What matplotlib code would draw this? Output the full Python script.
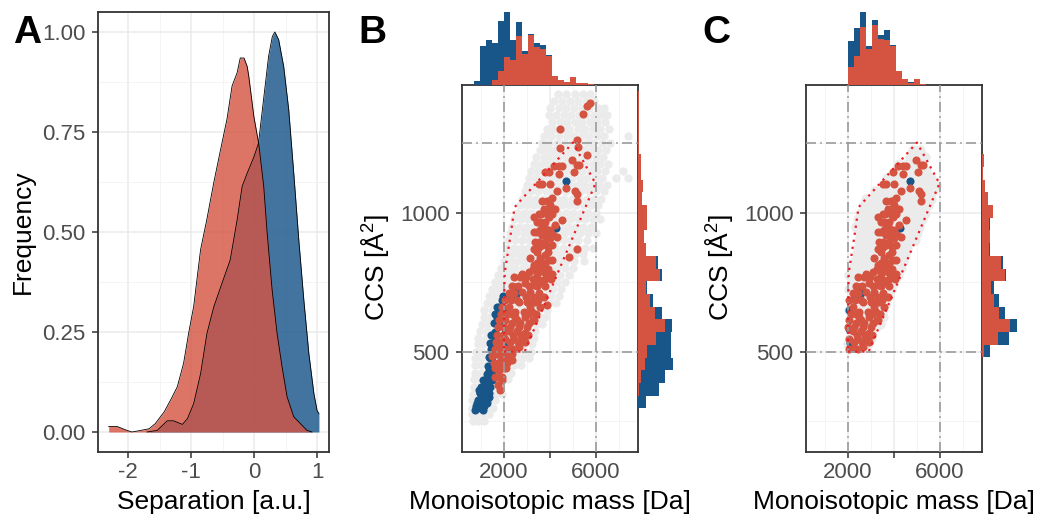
import numpy as np
import matplotlib.pyplot as plt
from matplotlib.path import Path

plt.rcParams['font.family'] = ['Liberation Sans', 'DejaVu Sans']
plt.rcParams['mathtext.fontset'] = 'custom'
plt.rcParams['mathtext.rm'] = 'Liberation Sans'
plt.rcParams['axes.unicode_minus'] = False

BLUE = '#18568A'
RED = '#D55341'
GREY_PT = '#EBEBEB'

# ---- panel A: separation densities ----
blue_x = [-1.70, -1.54, -1.38, -1.28, -1.14, -1.06, -0.96, -0.85, -0.75, -0.64, -0.53,
          -0.38, -0.27, -0.19, -0.11, 0.00, 0.07, 0.15, 0.23, 0.29, 0.33, 0.39, 0.47,
          0.55, 0.63, 0.71, 0.79, 0.87, 0.95, 1.00, 1.03]
blue_y = [0.0, 0.004, 0.028, 0.028, 0.019, 0.033, 0.071, 0.146, 0.246, 0.313, 0.363,
          0.43, 0.53, 0.614, 0.647, 0.689, 0.722, 0.831, 0.939, 0.989, 1.0, 0.981, 0.914,
          0.806, 0.647, 0.48, 0.33, 0.196, 0.096, 0.054, 0.046]
red_x = [-2.31, -2.18, -2.02, -1.94, -1.80, -1.67, -1.57, -1.43, -1.33, -1.22, -1.12,
         -1.04, -0.96, -0.85, -0.75, -0.64, -0.53, -0.43, -0.35, -0.27, -0.22, -0.16,
         -0.11, -0.085, -0.005, 0.074, 0.153, 0.206, 0.286, 0.365, 0.444, 0.524, 0.63,
         0.84, 0.92]
red_y = [0.014, 0.014, 0.004, 0.0, 0.004, 0.008, 0.021, 0.05, 0.079, 0.113, 0.172,
         0.247, 0.314, 0.456, 0.532, 0.624, 0.708, 0.783, 0.865, 0.898, 0.935, 0.935,
         0.914, 0.89, 0.79, 0.72, 0.614, 0.50, 0.356, 0.247, 0.163, 0.088, 0.038,
         0.004, 0.0]

# ---- panels B/C: CCS vs monoisotopic mass, rows of (CCS, [masses]) ----
gray_rows = [
    (1425, [4350, 4700, 5080, 5420, 5760]),
    (1402, [4180, 4530, 4870, 5230, 5580, 5930]),
    (1378, [4020, 4380, 4690, 5060, 5390, 5720, 6070, 6330]),
    (1352, [3940, 4260, 4610, 4920, 5260, 5570, 5910, 6220, 6480]),
    (1327, [4080, 4420, 4760, 5110, 5390, 5760, 6060, 6390]),
    (1301, [3860, 4190, 4560, 4840, 5210, 5540, 5860, 6190, 6560]),
    (1276, [3730, 4060, 4390, 4720, 5040, 5410, 5690, 6040, 6360, 7380]),
    (1249, [3640, 3960, 4290, 4610, 4950, 5260, 5610, 5890, 6260, 6610]),
    (1226, [3560, 3840, 4170, 4490, 4810, 5140, 5460, 5790, 6110, 6440]),
    (1201, [3410, 3720, 4040, 4360, 4690, 5010, 5340, 5660, 5990, 6310]),
    (1174, [3300, 3610, 3910, 4240, 4560, 4890, 5210, 5540, 5860, 6190, 6510]),
    (1151, [3190, 3490, 3810, 4120, 4440, 4760, 5090, 5410, 5740, 6060, 6390, 7190]),
    (1124, [3090, 3400, 3690, 4010, 4320, 4640, 4960, 5290, 5610, 5940, 6260, 6880, 7400]),
    (1099, [2990, 3290, 3600, 3910, 4210, 4520, 4840, 5160, 5490, 5810, 6140, 6490]),
    (1076, [2900, 3190, 3490, 3810, 4110, 4410, 4710, 5040, 5360, 5690, 6010, 6340]),
    (1050, [2790, 3090, 3410, 3700, 4010, 4310, 4610, 4940, 5260, 5590, 5910, 6240]),
    (1026, [2690, 2990, 3300, 3610, 3910, 4210, 4510, 4810, 5140, 5460, 5790, 6110]),
    (999, [2560, 2860, 3160, 3460, 3760, 4060, 4360, 4690, 5010, 5340, 5660, 5990]),
    (976, [2440, 2740, 3040, 3350, 3640, 3960, 4240, 4560, 4890, 5210, 5540, 5880, 6190]),
    (950, [2350, 2660, 2940, 3260, 3540, 3860, 4140, 4460, 4790, 5110, 5440, 5790]),
    (925, [2260, 2540, 2860, 3140, 3460, 3740, 4060, 4340, 4660, 4990, 5310, 5640, 5990]),
    (901, [2190, 2500, 2790, 3110, 3390, 3710, 3990, 4310, 4610, 4910, 5240, 5590]),
    (874, [2140, 2440, 2760, 3040, 3360, 3640, 3960, 4240, 4560, 4860, 5160, 5510, 5890]),
    (851, [2090, 2410, 2690, 3010, 3290, 3610, 3890, 4210, 4490, 4810, 5110, 5440]),
    (826, [2010, 2290, 2610, 2890, 3210, 3490, 3810, 4090, 4410, 4710, 5040, 5490]),
    (799, [1890, 2210, 2490, 2810, 3090, 3410, 3690, 4010, 4290, 4640, 5010]),
    (776, [1760, 2040, 2360, 2640, 2960, 3240, 3560, 3840, 4160, 4440, 4810]),
    (750, [1590, 1910, 2190, 2510, 2790, 3110, 3390, 3710, 3990, 4310, 4640]),
    (724, [1460, 1740, 2060, 2340, 2660, 2940, 3260, 3540, 3860, 4140, 4460]),
    (701, [1340, 1660, 1940, 2260, 2540, 2860, 3140, 3460, 3740, 4060, 4390]),
    (674, [1260, 1540, 1860, 2140, 2460, 2740, 3060, 3340, 3660, 3940, 4260]),
    (651, [1140, 1460, 1740, 2060, 2340, 2660, 2940, 3260, 3540, 3860]),
    (624, [1110, 1390, 1710, 1990, 2310, 2590, 2910, 3190, 3510, 3790]),
    (601, [1040, 1310, 1590, 1910, 2190, 2510, 2790, 3110, 3390, 3660]),
    (576, [960, 1240, 1560, 1840, 2160, 2440, 2760, 3040, 3360]),
    (549, [890, 1210, 1490, 1810, 2090, 2410, 2690, 3010, 3290]),
    (526, [860, 1090, 1410, 1690, 2010, 2290, 2610, 2890, 3210]),
    (499, [790, 1060, 1340, 1660, 1940, 2260, 2540, 2860, 3160]),
    (476, [760, 990, 1310, 1590, 1910, 2190, 2510, 2790, 3090]),
    (451, [740, 1010, 1240, 1560, 1840, 2160, 2440, 2760]),
    (424, [760, 990, 1260, 1490, 1810, 2040, 2310]),
    (401, [700, 960, 1190, 1460, 1690, 1960, 2190]),
    (374, [690, 890, 1160, 1390, 1660, 1890]),
    (349, [650, 910, 1140, 1410, 1640, 1910]),
    (326, [630, 840, 1110, 1340, 1610]),
    (299, [610, 860, 1090, 1360, 1540]),
    (276, [620, 840, 1110, 1340]),
    (251, [660, 890, 1140]),
]

red_rows = [
    (1393, [5752]), (1385, [5608]), (1354, [5434]), (1300, [4449]),
    (1261, [5173]), (1237, [5217]), (1231, [4449]), (1207, [5608]),
    (1189, [4956]), (1172, [5173, 5275]), (1167, [4159, 4376, 4521]),
    (1145, [3797, 3970, 5028]), (1138, [4405]), (1104, [3507, 3652, 4014]),
    (1090, [4695]), (1078, [4304, 5101]), (1066, [5173]), (1054, [4086]),
    (1040, [3650, 3869, 3950, 5173]), (1028, [4014]), (1014, [3724, 4231]),
    (1005, [3820, 3980]), (996, [3507, 3600, 3850, 4086]), (984, [3289, 3941]),
    (972, [4521]), (966, [3434, 3550, 3800]), (954, [3652, 4200]), (944, [3797]),
    (938, [3560, 4000]), (932, [3289, 3450, 3941]), (920, [3652, 3800, 4150]),
    (908, [4014]), (912, [4304]), (896, [3350, 3507, 3797]), (884, [3650, 4086]),
    (876, [3520, 3900]), (869, [3300, 5173]), (860, [3434, 3900]), (848, [3797]),
    (839, [4811]), (836, [3150, 3579]), (828, [3941, 4086]), (818, [3450, 3800]),
    (812, [3289, 3650]), (798, [3250, 3600, 3900]), (792, [3507, 3869]),
    (786, [3072, 3724]), (780, [2782, 3434, 4086]), (770, [2450, 2700, 2950, 3941]),
    (760, [3250, 3500, 3800, 4050]), (746, [2927, 3652]), (740, [3289]),
    (735, [2350, 2600, 3100, 3450, 3800]), (716, [2782, 3144]), (710, [2200, 2450, 3507]),
    (698, [2950, 3300, 3724]), (685, [2050, 2300, 2550, 3200, 3500]),
    (677, [2637, 2999, 3362]), (668, [3869]), (660, [1900, 2200, 3150, 3550]),
    (642, [2492, 2855, 3217]), (635, [1850, 2150, 2350, 3050, 3400]),
    (624, [2500, 2900]), (612, [1800, 2050, 2550, 3250, 3289]), (604, [2348, 2710, 3072]),
    (588, [1750, 2000, 2250, 2650, 3000]), (576, [2203, 2565]), (566, [2927]),
    (560, [1700, 1950, 2400, 2750, 3050]), (545, [2058, 2420, 2782]),
    (535, [1650, 1850, 2250, 2600, 2900]), (518, [1913, 2637]), (512, [2275]),
    (508, [1600, 1800, 2050, 2450]), (490, [1695, 2058, 2348]),
    (484, [1500, 1900, 2150]), (470, [1850, 2350]), (460, [1550, 1750, 1950, 2150]),
    (456, [1623, 1985]), (440, [1600, 1800, 2000, 2100]), (434, [1768]),
    (410, [1623, 1700, 1900]), (398, [1913]), (380, [1739]), (362, [1840]),
]

blue_rows = [
    (1114, [4695]), (944, [4260]), (734, [2492]), (710, [2565]),
    (700, [1950, 2300]), (686, [1913]), (662, [1695, 1800]), (650, [2030]),
    (635, [1623, 1768]), (620, [1700]), (602, [1550]), (596, [1840]),
    (580, [2060]), (572, [1623]), (560, [1450, 1550]), (542, [1623]),
    (530, [1406, 2100]), (510, [1450, 1550]), (506, [1478]), (480, [1350, 1500]),
    (476, [1406]), (450, [1300, 1450]), (446, [1550]), (434, [1333]),
    (420, [1250, 1450, 1500]), (398, [1100, 1188, 1300, 1500]),
    (374, [1000, 1043, 1200, 1400]), (362, [899, 1100]), (350, [950, 971, 1150, 1350]),
    (338, [1116, 1333]), (326, [850, 899, 1050, 1250]), (314, [826, 1261]),
    (306, [800, 1000, 1043, 1150]), (296, [783, 950]), (290, [750, 1072]),
]

# dotted hull used for the filtered set (panel C)
hull_mass = [2000, 2900, 5980, 5000, 2680, 2460, 2320, 2030, 2000, 2000]
hull_ccs = [500, 500, 1105, 1252, 1040, 1019, 938, 782, 600, 500]

# ---- marginal histograms (counts, red stacked under blue) ----
mass_bin_width = 260
massB_start = 700
massB_red = [0, 0, 0, 5, 14, 28, 25, 49, 31, 50, 38, 36, 29, 9, 5, 3, 8, 2, 2, 1]
massB_blue = [4, 39, 45, 37, 50, 45, 20, 14, 3, 1, 4, 4, 1, 0, 0, 0, 0, 0, 0, 0]
massC_start = 2000
massC_red = [18, 29, 58, 36, 60, 46, 45, 39, 14, 6, 2, 6, 1]
massC_blue = [26, 28, 15, 3, 5, 4, 10, 1, 0, 0, 1, 0, 0]

ccs_bin_width = 45.7
ccsB_start = 296
ccsB_red = [0, 1, 3, 7, 9, 18, 27, 17, 12, 8, 22, 18, 8, 6, 9, 9, 4, 5, 3, 3, 1, 1, 1, 1, 1]
ccsB_blue = [8, 20, 24, 28, 24, 15, 7, 7, 3, 1, 2, 2, 0, 0, 0, 0, 0, 0, 0, 0, 0, 0, 0, 0, 0]
ccsC_start = 479
ccsC_red = [2, 16, 28, 17, 12, 9, 23, 19, 7, 8, 7, 11, 6, 3, 1, 2]
ccsC_blue = [6, 11, 7, 6, 5, 3, 1, 2, 1, 0, 1, 0, 0, 0, 0, 0]

W, H = 1043, 522
fig = plt.figure(figsize=(W / 100, H / 100), dpi=100)


def box(l, t, r, b):
    return fig.add_axes([l / W, 1 - b / H, (r - l) / W, (b - t) / H])


def unrows(rows):
    m = np.concatenate([r[1] for r in rows]).astype(float)
    c = np.concatenate([[r[0]] * len(r[1]) for r in rows]).astype(float)
    return m, c


def frame(ax):
    for s in ax.spines.values():
        s.set_color('#333333')
        s.set_linewidth(1.3)
    ax.tick_params(which='major', length=4.5, width=1.1, color='#333333',
                   labelsize=16, labelcolor='#4D4D4D')
    ax.tick_params(axis='x', pad=3)
    ax.tick_params(axis='y', pad=4.5)
    ax.tick_params(which='minor', length=0)
    ax.grid(which='major', color='#EBEBEB', lw=1.1)
    ax.grid(which='minor', color='#F2F2F2', lw=0.6)
    ax.set_axisbelow(True)


# panel A
axA = box(98, 12, 329, 452)
axA.fill_between(blue_x, blue_y, color=BLUE, alpha=0.82, lw=0)
axA.plot(blue_x, blue_y, color='black', lw=0.6)
axA.fill_between(red_x, red_y, color=RED, alpha=0.8, lw=0)
axA.plot(red_x, red_y, color='black', lw=0.6)
axA.set_xlim(-2.48, 1.19)
axA.set_ylim(-0.05, 1.05)
axA.set_xticks([-2, -1, 0, 1])
axA.set_yticks([0, 0.25, 0.5, 0.75, 1.0])
axA.set_yticklabels(['0.00', '0.25', '0.50', '0.75', '1.00'])
axA.set_xticks([-1.5, -0.5, 0.5], minor=True)
axA.set_yticks([0.125, 0.375, 0.625, 0.875], minor=True)
frame(axA)

gray_mass, gray_ccs = unrows(gray_rows)
red_mass, red_ccs = unrows(red_rows)
blue_mass, blue_ccs = unrows(blue_rows)

hull = Path(np.column_stack([hull_mass, hull_ccs]))


def inside(m, c):
    return hull.contains_points(np.column_stack([m, c]))


dash = (0, (6, 2.5, 1, 2.5))


def scatter_panel(ax, gm, gc, bm, bc, rm, rc, gsize):
    ax.scatter(gm, gc, s=gsize, color=GREY_PT, lw=0, zorder=2)
    ax.scatter(bm, bc, s=34, color=BLUE, lw=0, zorder=3)
    ax.scatter(rm, rc, s=34, color=RED, lw=0, zorder=4)
    for x in (2000, 6000):
        ax.axvline(x, color='#9A9A9A', lw=1.2, ls=dash, zorder=5)
    for y in (500, 1250):
        ax.axhline(y, color='#9A9A9A', lw=1.2, ls=dash, zorder=5)
    ax.plot(hull_mass, hull_ccs, color='#EE1C25', lw=1.6, ls=(0, (1, 2.2)), zorder=6)
    ax.set_xlim(174, 7830)
    ax.set_ylim(139, 1459)
    ax.set_xticks([2000, 4000, 6000])
    ax.set_xticklabels(['2000', '', '6000'])
    ax.set_yticks([500, 1000])
    ax.set_xticks([1000, 3000, 5000, 7000], minor=True)
    ax.set_yticks([250, 750, 1250], minor=True)
    frame(ax)


def marg_top(ax, start, red, blue, xlim):
    left = start + mass_bin_width * np.arange(len(red))
    ax.bar(left, red, width=mass_bin_width, align='edge', color=RED, lw=0)
    ax.bar(left, blue, bottom=red, width=mass_bin_width, align='edge', color=BLUE, lw=0)
    ax.set_xlim(*xlim)
    ax.set_ylim(0, 74)
    ax.axis('off')


def marg_right(ax, start, red, blue, ylim):
    low = start + ccs_bin_width * np.arange(len(red))
    ax.barh(low, red, height=ccs_bin_width, align='edge', color=RED, lw=0)
    ax.barh(low, blue, left=red, height=ccs_bin_width, align='edge', color=BLUE, lw=0)
    ax.set_ylim(*ylim)
    ax.set_xlim(0, 35)
    ax.axis('off')


# panel B
axB = box(462, 85, 638, 452)
scatter_panel(axB, gray_mass, gray_ccs, blue_mass, blue_ccs, red_mass, red_ccs, 36)
marg_top(box(462, 11, 638, 85), massB_start, massB_red, massB_blue, axB.get_xlim())
marg_right(box(638, 85, 673, 452), ccsB_start, ccsB_red, ccsB_blue, axB.get_ylim())

# panel C: only points inside the hull
gi = inside(gray_mass, gray_ccs)
bi = inside(blue_mass, blue_ccs)
ri = inside(red_mass, red_ccs)
axC = box(806, 85, 982, 452)
scatter_panel(axC, gray_mass[gi], gray_ccs[gi], blue_mass[bi], blue_ccs[bi],
              red_mass[ri], red_ccs[ri], 56)
marg_top(box(806, 11, 982, 85), massC_start, massC_red, massC_blue, axC.get_xlim())
marg_right(box(982, 85, 1017, 452), ccsC_start, ccsC_red, ccsC_blue, axC.get_ylim())

# titles and panel letters
lab = dict(fontsize=19, color='black', ha='center', va='center')
fig.text(213.5 / W, 1 - 502 / H, 'Separation [a.u.]', **lab)
fig.text(23 / W, 1 - 232 / H, 'Frequency', rotation=90, **lab)
fig.text(550 / W, 1 - 502 / H, 'Monoisotopic mass [Da]', **lab)
fig.text(376 / W, 1 - 268 / H, 'CCS [Å$^2$]', rotation=90, **lab)
fig.text(894 / W, 1 - 502 / H, 'Monoisotopic mass [Da]', **lab)
fig.text(720 / W, 1 - 268 / H, 'CCS [Å$^2$]', rotation=90, **lab)

let = dict(fontsize=28, fontweight='bold', ha='center', va='center')
fig.text(27 / W, 1 - 33 / H, 'A', **let)
fig.text(372 / W, 1 - 33 / H, 'B', **let)
fig.text(716 / W, 1 - 33 / H, 'C', **let)

fig.savefig('out.png', dpi=100)
